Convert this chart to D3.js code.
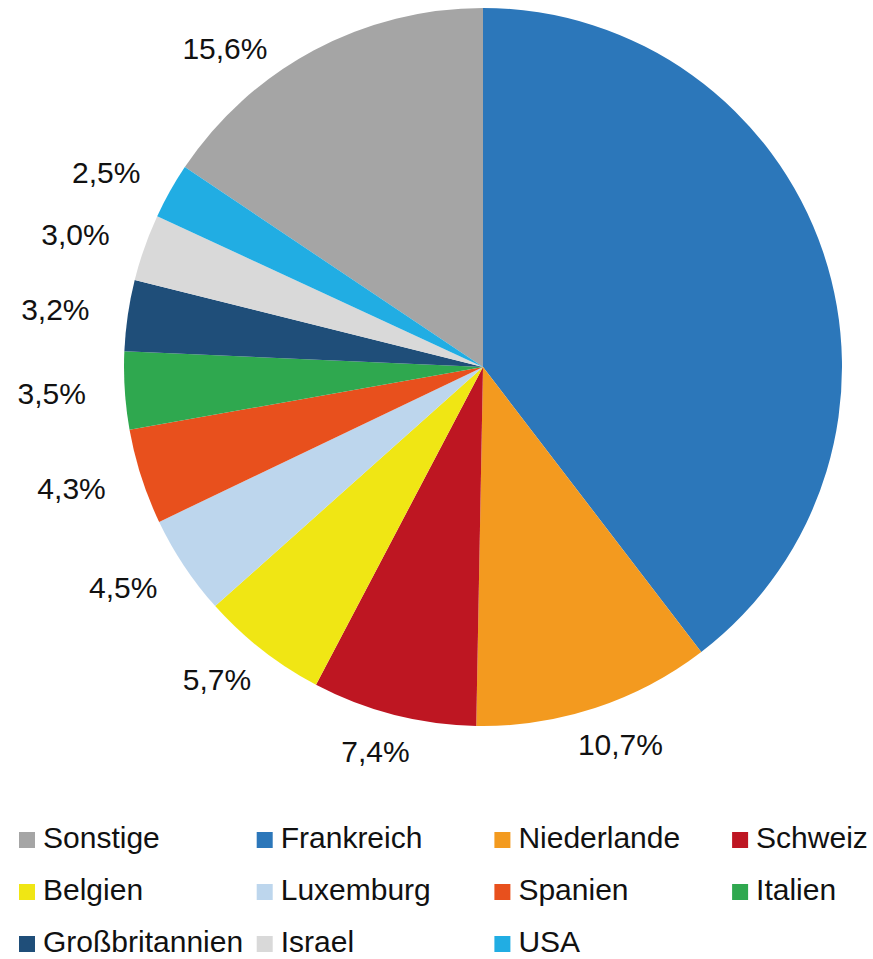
<!DOCTYPE html>
<html lang="de">
  <head>
    <meta charset="utf-8">
    <title>Anteile nach Ländern</title>
    <script src="https://cdn.jsdelivr.net/npm/d3@7"></script>
    <style>
      body { margin: 0; background: #fff; }
      text { font-family: "Liberation Sans", Arial, sans-serif; fill: #111; }
    </style>
  </head>
  <body>
    <script>
      var width = 873;
      var height = 959;

      // legend order; the pie runs clockwise from Frankreich at 12 o'clock, Sonstige last
      var categories = ["Sonstige", "Frankreich", "Niederlande", "Schweiz",
                        "Belgien", "Luxemburg", "Spanien", "Italien",
                        "Großbritannien", "Israel", "USA"];
      var values = [15.6, 39.6, 10.7, 7.4, 5.7, 4.5, 4.3, 3.5, 3.2, 3.0, 2.5];
      var labels = ["15,6%", "", "10,7%", "7,4%", "5,7%", "4,5%", "4,3%",
                    "3,5%", "3,2%", "3,0%", "2,5%"];
      var colors = ["#a5a5a5", "#2c77ba", "#f39a1f", "#be1622", "#f0e614",
                    "#bdd6ed", "#e8501d", "#2fa84f", "#1f4e79", "#d9d9d9", "#21ade3"];

      var cx = 483, cy = 367, radius = 359;
      // labels sit on a slightly wider-than-tall ring
      var labelRx = 398, labelRy = 385;
      var labelTop = 36;

      var data = categories.map(function(c, i) {
        return { name: c, value: values[i], label: labels[i], color: colors[i] };
      });

      var total = d3.sum(values);
      var start = -2 * Math.PI * values[0] / total;

      var pie = d3.pie()
                  .sort(null)
                  .value(function(d) { return d.value; })
                  .startAngle(start)
                  .endAngle(start + 2 * Math.PI);

      var arc = d3.arc().innerRadius(0).outerRadius(radius);

      var svg = d3.select("body")
            .append("svg")
            .attr("width", width)
            .attr("height", height);

      var g = svg.append("g")
            .attr("transform", "translate(" + cx + "," + cy + ")");

      var slices = pie(data);

      g.selectAll("path")
       .data(slices)
       .enter()
       .append("path")
       .attr("d", arc)
       .attr("fill", function(d) { return d.data.color; });

      // outside-end labels: box edge touches the ring just outside the pie
      var lab = g.selectAll("text.lab")
       .data(slices.filter(function(d) { return d.data.label; }))
       .enter()
       .append("text")
       .attr("class", "lab")
       .attr("font-size", "30px")
       .attr("text-anchor", "middle")
       .attr("dominant-baseline", "central")
       .text(function(d) { return d.data.label; });

      lab.each(function(d) {
        var hw = this.getComputedTextLength() / 2;
        var hh = 12;
        var a = (d.startAngle + d.endAngle) / 2;
        var s = Math.sin(a), c = Math.cos(a);
        var x = (labelRx + hw) * s;
        var y = -(labelRy + hh) * c;
        // keep label inside the plot area at the top, slide it along the ring
        if (cy + y - hh < labelTop) {
          y = labelTop + hh - cy;
          var dx = Math.sqrt(labelRy * labelRy - y * y);
          x = (s < 0 ? -1 : 1) * (dx + hw);
        }
        d3.select(this).attr("x", x).attr("y", y);
      });

      // legend
      var legX = d3.scaleLinear().domain([0, 1]).range([19, 256.7]);
      var legY = d3.scaleLinear().domain([0, 1]).range([832, 884]);
      var box = 16;

      var item = svg.selectAll("g.leg")
       .data(data)
       .enter()
       .append("g")
       .attr("class", "leg")
       .attr("transform", function(d, i) {
         return "translate(" + legX(i % 4) + "," + legY(Math.floor(i / 4)) + ")";
       });

      item.append("rect")
          .attr("width", box)
          .attr("height", box)
          .attr("fill", function(d) { return d.color; });

      item.append("text")
          .attr("x", 24)
          .attr("y", box)
          .attr("font-size", "30px")
          .text(function(d) { return d.name; });
    </script>
  </body>
</html>
